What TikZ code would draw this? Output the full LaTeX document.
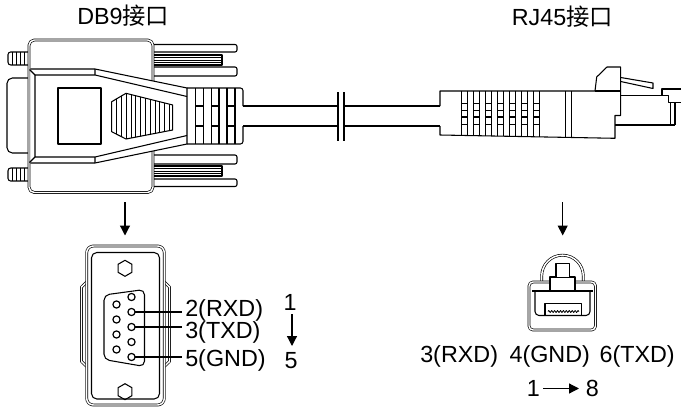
\documentclass[tikz,border=0pt]{standalone}
\usepackage{fontspec}
\setmainfont{Liberation Sans}
\newfontfamily\cjk{Noto Sans CJK SC}
\usetikzlibrary{arrows.meta,decorations.pathmorphing}
\begin{document}
\begin{tikzpicture}[x=0.75pt,y=-0.75pt,line join=round,
  ln/.style={draw=black,line width=0.8pt},
  thn/.style={draw=black,line width=0.6pt},
  dbl/.style={draw=black,double=white,double distance=1.1pt,line width=0.5pt},
  arr/.style={draw=black,line width=0.9pt,-{Triangle[length=7.5pt,width=7.5pt]}},
  lbl/.style={inner sep=0pt,anchor=base west,font=\fontsize{17.5}{20}\selectfont}]
\useasboundingbox (0,0) rectangle (681,410);

% ---------- titles ----------
\node[lbl] (t1) at (77,25) {DB9{\cjk 接口}};
\node[lbl] (t2) at (511.5,26) {RJ45{\cjk 接口}};

% ---------- DB9 side view ----------
\foreach \ya/\yb in {44.5/52, 67/76, 155/164, 179/186.5}
  \draw[ln,fill=white,rounded corners=1.5pt] (145,\ya) -- (237,\ya) -- (237,\yb) -- (145,\yb);
\foreach \ya/\yb in {55/65, 166/176}
  \draw[ln,fill=white] (145,\ya) -- (222,\ya) -- (222,\yb) -- (145,\yb);
\foreach \y in {57.5,60,62.5,168.5,171,173.5} \draw[thn] (145,\y) -- (222,\y);
\foreach \ya/\yb in {52/65, 168/181} {
  \draw[ln,fill=white,rounded corners=2pt] (30,\ya) -- (8,\ya) -- (8,\yb) -- (30,\yb);
  \foreach \x in {12,16,20,24} \draw[thn] (\x,\ya) -- (\x,\yb);
}
\draw[ln,fill=white,rounded corners=4pt] (30,78) -- (7,78) -- (7,153) -- (30,153);
\draw[dbl,fill=white,rounded corners=4pt] (29,40) rectangle (153,192.5);
\draw[ln,fill=white] (30.4,69) -- (95,69) -- (187,88) -- (187,144) -- (95,163) -- (30.4,163);
\draw[ln] (187,96.5) -- (95,75) -- (35,75) -- (35,157) -- (95,157) -- (187,135.5);
\draw[ln] (29.5,69.5) -- (35,75) (29.5,162.5) -- (35,157) (95,69) -- (95,75) (95,157) -- (95,163);
\draw[ln] (58,88) rectangle (101,144);
\begin{scope}
  \clip (111.7,101.7) -- (126,93.3) -- (172.7,105) -- (172.7,130) -- (126,139) -- (111.7,131.7) -- cycle;
  \foreach \x in {116.5,121.3,...,172} \draw[thn] (\x,90) -- (\x,142);
\end{scope}
\draw[ln] (111.7,101.7) -- (126,93.3) -- (172.7,105) -- (172.7,130) -- (126,139) -- (111.7,131.7) -- cycle;
% strain relief grid
\draw[ln,rounded corners=2pt] (187,88) -- (243,88) -- (243,106);
\draw[ln,rounded corners=2pt] (243,126) -- (243,144) -- (187,144);
\foreach \x in {195.5,203.3,211.2,219,227,235} \draw[ln] (\x,88) -- (\x,144);
\foreach \x in {195.5,211.2,227} {\draw[ln] (\x,106) -- (\x+7.8,106); \draw[ln] (\x,126) -- (\x+7.8,126);}

% ---------- cable ----------
\draw[ln] (243,106) -- (338,106) (243,126) -- (338,126) (344,106) -- (440,106) (344,126) -- (440,126);
\draw[ln] (338,92) -- (338,141) (344,92) -- (344,141);

% ---------- RJ45 side view ----------
\begin{scope}
  \clip (440,91) -- (620.7,91) -- (620.7,140) -- (615,138.3) -- (440,135) -- cycle;
  \foreach \x in {461.7,473.5,485.5,497.6,509.8,521.7,533.8} {
    \draw[ln] (\x,88) -- (\x,142);
    \draw[ln] (\x+5.7,88) -- (\x+5.7,142);
    \foreach \y in {103.5,110.5,117,124.5} \draw[ln] (\x,\y) -- (\x+5.7,\y);
  }
  \draw[ln] (565.7,88) -- (565.7,142) (571.7,88) -- (571.7,142);
\end{scope}
\draw[ln] (440,106) -- (440,91) -- (595,91) -- (596.7,77) -- (607,67) -- (620.7,67) -- (620.7,115.5) -- (615,115.5) -- (615,138.3) -- (440,135) -- (440,126);
\draw[ln] (595,91) -- (620.7,91);
\draw[ln] (620.7,77.5) -- (653,83) -- (653,88.5) -- (620.7,81.5);
\draw[ln] (620.7,95.5) -- (668.3,95.5) -- (668.3,102.5) -- (681,102.5);
\draw[ln] (662,95.5) -- (662,89) -- (681,89);
\draw[ln] (670.7,102.5) -- (670.7,125) (675,102.5) -- (675,125);
\draw[ln] (615,125) -- (675,125);

% ---------- arrows down ----------
\draw[arr] (125,202) -- (125,235.5);
\draw[arr] (562.7,202) -- (562.7,235.5);

% ---------- DB9 front view ----------
\draw[dbl,fill=white] (87,281.7) -- (81.5,287) -- (81.5,361.5) -- (87,366.7);
\draw[dbl,fill=white] (164,281.7) -- (169.5,287) -- (169.5,361.5) -- (164,366.7);
\draw[dbl,fill=white,rounded corners=5pt] (86.7,246) rectangle (164.3,405);
\draw[ln,rounded corners=4pt] (91.5,252.5) rectangle (159.5,399);
\foreach \cy in {268.3,391.7}
  \draw[ln] (125,\cy) +(90:8) -- +(30:8) -- +(-30:8) -- +(-90:8) -- +(-150:8) -- +(150:8) -- cycle;
\draw[ln,rounded corners=4pt] (104,295) -- (144.5,289.5) -- (144.5,366.5) -- (104,359.5) -- cycle;
\foreach \y in {297,312,327,342,357} \draw[line width=0.9pt] (131.5,\y) circle[radius=3.6];
\foreach \y in {304.5,319.5,334.5,349.5} \draw[line width=0.9pt] (116.5,\y) circle[radius=3.6];
\draw[ln] (135.1,312) -- (182,312) (135.1,327) -- (182,327) (135.1,357) -- (182,357);
\node[lbl] (p2) at (185,316.7) {2(RXD)};
\node[lbl] (p3) at (185,338.3) {3(TXD)};
\node[lbl] (p5) at (185,366.7) {5(GND)};
\node[lbl,anchor=base] (n1) at (290,310) {1};
\node[lbl,anchor=base] (n5) at (291,368.3) {5};
\draw[arr] (292,314) -- (292,346);

% ---------- RJ45 front view ----------
\draw[dbl] (541.7,282) -- (541.7,276) .. controls (541.7,264.5) and (551,255.2) .. (562.5,255.2)
  .. controls (574,255.2) and (583.3,264.5) .. (583.3,276) -- (583.3,282);
\draw[dbl,fill=white,rounded corners=3pt] (529,282) rectangle (595.5,330);
\draw[ln,fill=white] (550,291) -- (550,277) -- (575,277) -- (575,291);
\draw[ln,fill=white] (556,277) -- (556,263.5) -- (569.3,263.5) -- (569.3,277);
\draw[ln] (532,291) -- (593,291);
\draw[ln,rounded corners=3pt] (535,291) -- (535,315.5) -- (590,315.5) -- (590,291);
\draw[ln] (545,315.5) -- (545,303.5) -- (581.7,303.5) -- (581.7,315.5);
\draw[thn,decorate,decoration={zigzag,segment length=2.2pt,amplitude=0.8pt}] (548,311.5) -- (579,311.5);
\node[lbl] (r3) at (420,362.7) {3(RXD)};
\node[lbl] (r4) at (509.3,362.7) {4(GND)};
\node[lbl] (r6) at (599.3,362.7) {6(TXD)};
\node[lbl] (m1) at (526.5,396.7) {1};
\node[lbl] (m8) at (585.5,396.7) {8};
\draw[arr] (543,388.5) -- (579,388.5);
\end{tikzpicture}
\end{document}
